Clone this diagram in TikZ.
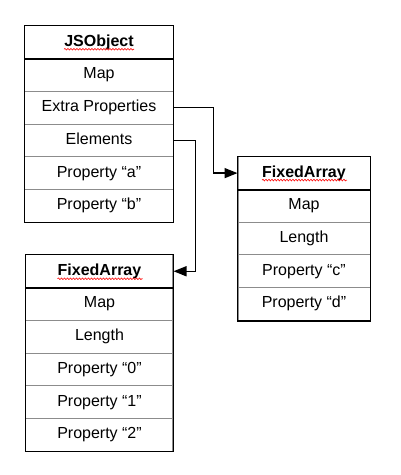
\documentclass[tikz,border=0pt]{standalone}
\usepackage{fontspec}
\setmainfont{Liberation Sans}
\usetikzlibrary{matrix, arrows.meta, decorations.pathmorphing}

\begin{document}
\begin{tikzpicture}[x=1pt, y=-1pt,
    every node/.style={font=\fontsize{16}{19}\selectfont},
    cell/.style={draw=black!45, line width=1pt, inner sep=0pt,
        minimum height=32.7pt, text height=11.5pt, text depth=3.5pt},
    record/.style={matrix of nodes, row sep=-1pt, nodes={cell}},
    frame/.style={draw=black, line width=1.5pt},
    headline/.style={line width=2.6pt},
    link/.style={line width=1.5pt, -{Triangle[length=13pt,width=10pt]}},
    spell/.style={red, line width=0.6pt, decorate,
        decoration={snake, amplitude=0.8pt, segment length=3pt}}]
    \useasboundingbox (0,0) rectangle (400,475);

    \matrix (js) [record, nodes={minimum width=148pt}] at (99,124)
    {
        \textbf{JSObject} \\
        Map \\
        Extra Properties \\
        Elements \\
        Property “a” \\
        Property “b” \\
    };

    \matrix (fr) [record, nodes={minimum width=132pt}] at (304,238.5)
    {
        \textbf{FixedArray} \\
        Map \\
        Length \\
        Property “c” \\
        Property “d” \\
    };

    \matrix (fb) [record, nodes={minimum width=147pt}] at (99.5,353)
    {
        \textbf{FixedArray} \\
        Map \\
        Length \\
        Property “0” \\
        Property “1” \\
        Property “2” \\
    };

    % outer frames and header rules
    \draw[frame] (js-1-1.north west) rectangle (js-6-1.south east);
    \draw[frame] (fr-1-1.north west) rectangle (fr-5-1.south east);
    \draw[frame] (fb-1-1.north west) rectangle (fb-6-1.south east);
    \draw[headline] (js-1-1.south west) -- (js-1-1.south east);
    \draw[headline] (fr-1-1.south west) -- (fr-1-1.south east);
    \draw[headline] (fb-1-1.south west) -- (fb-1-1.south east);

    \draw[spell] ([xshift=-35pt,yshift=-7pt]js-1-1.center) -- ++(70,0);
    \draw[spell] ([xshift=-42pt,yshift=-7pt]fr-1-1.center) -- ++(85,0);
    \draw[spell] ([xshift=-42pt,yshift=-7.5pt]fb-1-1.center) -- ++(85,0);

    \draw[link] (js-3-1.east) -- ++(40,0) |- (fr-1-1.west);
    \draw[link] (js-4-1.east) -- ++(22,0) |- (fb-1-1.east);
\end{tikzpicture}
\end{document}
